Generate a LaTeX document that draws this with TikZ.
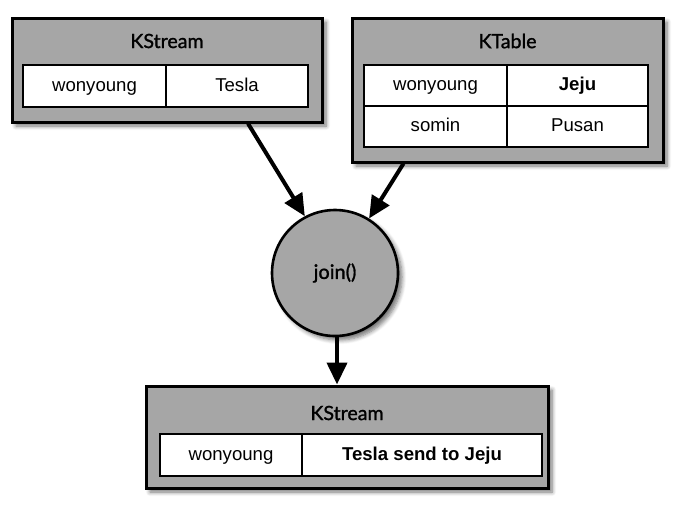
\documentclass[tikz,border=0pt]{standalone}
\usepackage{fontspec}
\setmainfont{Liberation Sans}
\newfontfamily\titlefont[FakeBold=1.3]{Lato}
\usetikzlibrary{arrows.meta,shadows.blur}
\definecolor{boxgray}{HTML}{A6A6A6}
\tikzset{
  outerbox/.style={draw=black, line width=1.5pt, fill=boxgray, rectangle, inner sep=0pt,
    blur shadow={shadow xshift=2pt, shadow yshift=-2pt, shadow blur steps=6, shadow opacity=55}},
  cellbox/.style={draw=black, line width=1.1pt, fill=white, rectangle, inner sep=0pt,
    text height=7pt, text depth=2pt,
    font=\fontsize{9.3}{11}\selectfont},
  titletext/.style={font=\titlefont\fontsize{9.8}{12}\selectfont, inner sep=0pt},
  joincircle/.style={draw=black, line width=1.3pt, fill=boxgray, circle, inner sep=0pt,
    minimum size=63pt, font=\titlefont\fontsize{10}{12}\selectfont,
    blur shadow={shadow xshift=2pt, shadow yshift=-2pt, shadow blur steps=6, shadow opacity=55}},
  flow/.style={line width=2pt, -{Triangle[width=10pt,length=11pt]}}
}
\begin{document}
\begin{tikzpicture}[x=0.5pt,y=-0.5pt]
\useasboundingbox (0,0) rectangle (683,515);
% top-left KStream
\node[outerbox, minimum width=155pt, minimum height=52pt] (ks1) at (167,70) {};
\node[titletext] (ks1t) at (167,41) {KStream};
\node[cellbox, minimum width=71.5pt, minimum height=21pt] (ks1a) at (94.5,86) {wonyoung};
\node[cellbox, minimum width=71pt, minimum height=21pt] (ks1b) at (237,86) {Tesla};
% top-right KTable
\node[outerbox, minimum width=155.5pt, minimum height=72pt] (kt) at (507.5,90) {};
\node[titletext] (ktt) at (507.5,41) {KTable};
\node[cellbox, minimum width=71.5pt, minimum height=20.5pt] (kta) at (435.5,85.5) {wonyoung};
\node[cellbox, minimum width=70.5pt, minimum height=20.5pt] (ktb) at (577.5,85.5) {\textbf{Jeju}};
\node[cellbox, minimum width=71.5pt, minimum height=20.5pt] (ktc) at (435.5,126.5) {somin};
\node[cellbox, minimum width=70.5pt, minimum height=20.5pt] (ktd) at (577.5,126.5) {Pusan};
% join
\node[joincircle] (join) at (335,273) {join()};
% bottom KStream
\node[outerbox, minimum width=201pt, minimum height=51pt] (ks2) at (347,437) {};
\node[titletext] (ks2t) at (347,413) {KStream};
\node[cellbox, minimum width=71pt, minimum height=21pt] (ks2a) at (231,455) {wonyoung};
\node[cellbox, minimum width=120pt, minimum height=21pt] (ks2b) at (422,455) {\textbf{Tesla send to Jeju}};
% arrows
\draw[flow] ([xshift=40.5pt]ks1.south) -- (join.118);
\draw[flow] ([xshift=-52pt]kt.south) -- (join.58);
\draw[flow] ([xshift=1pt]join.south) -- ([xshift=1pt]join.south |- ks2.north);
\end{tikzpicture}
\end{document}
